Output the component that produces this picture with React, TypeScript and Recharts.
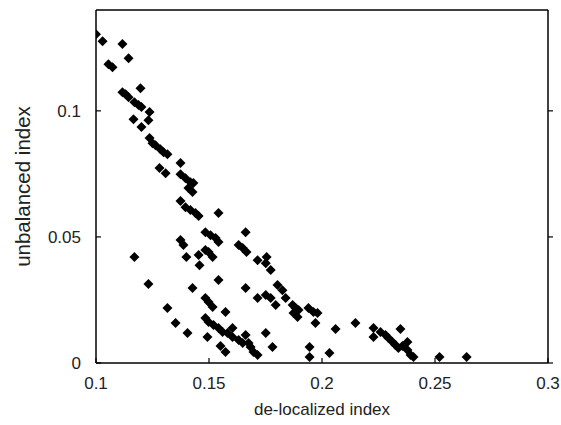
import React from 'react';
import { ScatterChart, Scatter, XAxis, YAxis, Label } from 'recharts';

// de-localized index (x) and unbalanced index (y)
const delocalized = [
  0.1, 0.1029, 0.1117, 0.1144, 0.1055, 0.1073, 0.1197, 0.1117, 0.1131, 0.1144,
  0.117, 0.1188, 0.1201, 0.1237, 0.1232, 0.1166, 0.1201, 0.1237, 0.125, 0.1263,
  0.1285, 0.1299, 0.1316, 0.1374, 0.1281, 0.1308, 0.1374, 0.1396, 0.1418, 0.1431,
  0.1409, 0.1427, 0.1374, 0.1396, 0.1418, 0.144, 0.1454, 0.1542, 0.1484, 0.1507,
  0.1529, 0.1542, 0.1662, 0.1374, 0.1387, 0.14, 0.1454, 0.1458, 0.1484, 0.1498,
  0.1516, 0.1631, 0.1649, 0.1666, 0.1715, 0.1755, 0.1751, 0.1773, 0.1542, 0.1427,
  0.1484, 0.1498, 0.1516, 0.1573, 0.1662, 0.1715, 0.1751, 0.1773, 0.1795, 0.1803,
  0.1825, 0.1839, 0.1316, 0.1352, 0.1405, 0.1484, 0.1498, 0.152, 0.1542, 0.156,
  0.1582, 0.1604, 0.1493, 0.1551, 0.1573, 0.1604, 0.1631, 0.1649, 0.1662, 0.1675,
  0.1684, 0.1697, 0.1715, 0.1751, 0.1781, 0.117, 0.1232, 0.187, 0.1883, 0.1896,
  0.1874, 0.1892, 0.194, 0.1962, 0.198, 0.1971, 0.206, 0.2148, 0.2228, 0.2228,
  0.2259, 0.2281, 0.2294, 0.2312, 0.2325, 0.2338, 0.2347, 0.2378, 0.2378, 0.2392,
  0.2405, 0.1945, 0.1945, 0.2033, 0.252, 0.264, 0.2356,
];

const unbalanced = [
  0.1304, 0.1276, 0.1265, 0.1209, 0.1185, 0.1173, 0.109, 0.1074, 0.1066, 0.1054,
  0.1034, 0.1023, 0.1015, 0.0995, 0.0963, 0.0967, 0.0936, 0.0892, 0.0872, 0.0864,
  0.0848, 0.0836, 0.0828, 0.0793, 0.0773, 0.0753, 0.0749, 0.0733, 0.0717, 0.0714,
  0.0694, 0.0678, 0.0642, 0.0618, 0.0607, 0.0595, 0.0583, 0.0595, 0.0519, 0.0507,
  0.0496, 0.048, 0.0519, 0.0488, 0.0468, 0.042, 0.0428, 0.0388, 0.0448, 0.044,
  0.042, 0.0468, 0.0456, 0.044, 0.0408, 0.042, 0.0396, 0.0369, 0.0329, 0.0297,
  0.0258, 0.0242, 0.0222, 0.0202, 0.0297, 0.0258, 0.027, 0.0258, 0.023, 0.0309,
  0.0289, 0.0258, 0.0218, 0.0159, 0.0119, 0.0178, 0.0163, 0.0151, 0.0139, 0.0123,
  0.0119, 0.0139, 0.0103, 0.0067, 0.0044, 0.0103, 0.0091, 0.0079, 0.0111, 0.0079,
  0.0063, 0.0044, 0.0032, 0.0119, 0.0063, 0.042, 0.0313, 0.023, 0.0218, 0.021,
  0.0198, 0.0182, 0.0218, 0.0202, 0.0198, 0.0159, 0.0135, 0.0159, 0.0139, 0.0103,
  0.0123, 0.0111, 0.0099, 0.0083, 0.0071, 0.0059, 0.0135, 0.0083, 0.0052, 0.0032,
  0.0024, 0.0063, 0.0024, 0.004, 0.0024, 0.0024, 0.0067,
];

const xTicks = [0.1, 0.15, 0.2, 0.25, 0.3];
const yTicks = [0, 0.05, 0.1];

const points = delocalized.map((x, i) => ({ x, y: unbalanced[i] }));

const font = '"Liberation Sans", Arial, sans-serif';
const tickStyle = { fontSize: 17, fill: '#222', fontFamily: font };
const axisLine = { stroke: '#000', strokeWidth: 1.5 };
const tickLine = { stroke: '#000', strokeWidth: 1.2 };

// the top and right axes only carry the inward tick marks, no labels
const NoLabel = () => <g />;

const Diamond = (props: any) => {
  const { cx, cy } = props;
  if (cx == null || cy == null) return null;
  return (
    <polygon
      points={`${cx},${cy - 5} ${cx + 5},${cy} ${cx},${cy + 5} ${cx - 5},${cy}`}
      fill="#000"
    />
  );
};

export default function App() {
  return (
    <div style={{ position: 'absolute', left: 0, top: 0, background: '#fff' }}>
      <ScatterChart width={561} height={425} margin={{ top: 9, right: 12, bottom: 0, left: 0 }}>
        <XAxis
          type="number"
          dataKey="x"
          domain={[0.1, 0.3]}
          ticks={xTicks}
          allowDataOverflow
          height={62}
          tickSize={-5}
          tickMargin={19}
          tick={tickStyle}
          axisLine={axisLine}
          tickLine={tickLine}
        >
          <Label
            value="de-localized index"
            position="insideBottom"
            offset={10}
            style={{ fontSize: 17, fill: '#222', fontFamily: font }}
          />
        </XAxis>
        <XAxis
          xAxisId="top"
          orientation="top"
          type="number"
          domain={[0.1, 0.3]}
          ticks={xTicks}
          allowDataOverflow
          height={1}
          tickSize={5}
          tick={<NoLabel />}
          axisLine={axisLine}
          tickLine={tickLine}
        />
        <YAxis
          type="number"
          dataKey="y"
          domain={[0, 0.14]}
          ticks={yTicks}
          allowDataOverflow
          width={96}
          tickSize={-5}
          tickMargin={20}
          tick={tickStyle}
          axisLine={axisLine}
          tickLine={tickLine}
        >
          <Label
            value="unbalanced index"
            angle={-90}
            position="insideLeft"
            offset={23}
            style={{ fontSize: 20.5, fill: '#222', fontFamily: font, textAnchor: 'middle' }}
          />
        </YAxis>
        <YAxis
          yAxisId="right"
          orientation="right"
          type="number"
          domain={[0, 0.14]}
          ticks={yTicks}
          allowDataOverflow
          width={1}
          tickSize={5}
          tick={<NoLabel />}
          axisLine={axisLine}
          tickLine={tickLine}
        />
        <Scatter data={points} shape={<Diamond />} isAnimationActive={false} />
      </ScatterChart>
    </div>
  );
}
